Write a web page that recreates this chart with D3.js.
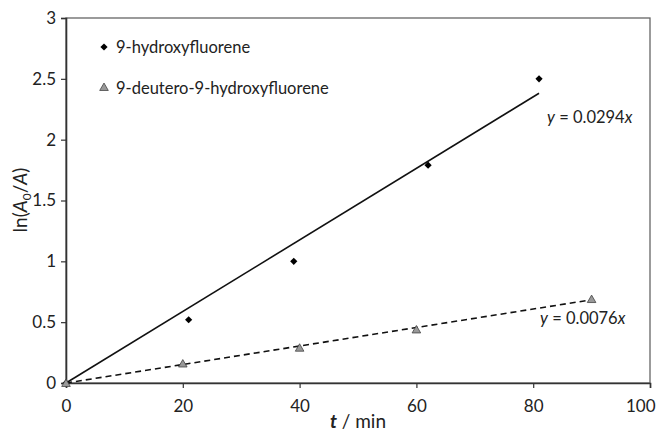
<!DOCTYPE html>
<html><head><meta charset="utf-8">
<script src="https://cdn.jsdelivr.net/npm/d3@7"></script>
<style>body{margin:0;background:#fff}svg{display:block}text{font-family:Lato,"Open Sans",sans-serif;fill:#222}</style>
</head><body><svg id="c" width="656" height="433"></svg>
<script>
const hTime = [0, 21, 39, 62, 81];
const hValue = [0, 0.52, 1.0, 1.79, 2.5];
const dTime = [0, 20, 40, 60, 90];
const dValue = [0, 0.16, 0.29, 0.44, 0.69];
const hSlope = 0.0294, dSlope = 0.0076;
const xTicks = [0, 20, 40, 60, 80, 100];
const yTicks = [0, 0.5, 1, 1.5, 2, 2.5, 3];
const seriesNames = ["9-hydroxyfluorene", "9-deutero-9-hydroxyfluorene"];

const svg = d3.select("#c");
const x = d3.scaleLinear().domain([0, 100]).range([66, 650]);
const y = d3.scaleLinear().domain([0, 3]).range([383, 18]);

// frame
svg.append("rect").attr("x", x(0)).attr("y", y(3)).attr("width", x(100)-x(0)).attr("height", y(0)-y(3))
  .attr("fill", "none").attr("stroke", "#666").attr("stroke-width", 1.3);

const xAxis = svg.append("g").attr("transform", `translate(0,${y(0)})`)
  .call(d3.axisBottom(x).tickValues(xTicks).tickSize(5).tickPadding(12).tickFormat(d3.format("d")));
const yAxis = svg.append("g").attr("transform", `translate(${x(0)},0)`)
  .call(d3.axisLeft(y).tickValues(yTicks).tickSize(5).tickPadding(5).tickFormat(d => String(d)));
[xAxis, yAxis].forEach(g => {
  g.select(".domain").attr("stroke", "#333").attr("stroke-width", 1.6);
  g.selectAll(".tick line").attr("stroke", "#333").attr("stroke-width", 1.2);
  g.selectAll(".tick text").style("font-size", "17px").style("font-family", "Lato,sans-serif").attr("fill", "#222");
});
xAxis.selectAll(".tick text").filter(d => d === 100).attr("text-anchor", "end").attr("dx", 5);

// fit lines
svg.append("line").attr("x1", x(0)).attr("y1", y(0)).attr("x2", x(d3.max(hTime))).attr("y2", y(hSlope*d3.max(hTime)))
  .attr("stroke", "#111").attr("stroke-width", 1.6);
svg.append("line").attr("x1", x(0)).attr("y1", y(0)).attr("x2", x(d3.max(dTime))).attr("y2", y(dSlope*d3.max(dTime)))
  .attr("stroke", "#111").attr("stroke-width", 1.6).attr("stroke-dasharray", "6,4");

// points
const dia = d3.symbol().type(d3.symbolSquare).size(26);
const tri = d3.symbol().type(d3.symbolTriangle).size(32);
svg.selectAll(".h").data(hTime.map((t,i)=>[t,hValue[i]])).join("path")
  .attr("transform", d => `translate(${x(d[0])},${y(d[1])}) rotate(45)`).attr("d", dia).attr("fill", "#000");
svg.selectAll(".d").data(dTime.map((t,i)=>[t,dValue[i]])).join("path")
  .attr("transform", d => `translate(${x(d[0])},${y(d[1])+1})`).attr("d", tri).attr("fill", "#999").attr("stroke", "#444").attr("stroke-width", 0.8);

// legend
svg.append("path").attr("transform", "translate(104,47) rotate(45)").attr("d", dia).attr("fill", "#000");
svg.append("path").attr("transform", "translate(104,88)").attr("d", tri).attr("fill", "#999").attr("stroke", "#444").attr("stroke-width", 0.8);
svg.append("text").attr("x", 116).attr("y", 53).style("font-size", "16.5px").text(seriesNames[0]);
svg.append("text").attr("x", 116).attr("y", 94).style("font-size", "16.5px").text(seriesNames[1]);

// equations
function eq(xp, yp, val) {
  const t = svg.append("text").attr("x", xp).attr("y", yp).style("font-size", "16.5px");
  t.append("tspan").style("font-style", "italic").text("y");
  t.append("tspan").text(" = " + val);
  t.append("tspan").style("font-style", "italic").text("x");
}
eq(547, 123, hSlope.toFixed(4));
eq(540, 324, dSlope.toFixed(4));

// axis titles
const xt = svg.append("text").attr("x", 358).attr("y", 428).attr("text-anchor", "middle").style("font-size", "19px");
xt.append("tspan").style("font-style", "italic").style("font-weight", "bold").text("t");
xt.append("tspan").text(" / min");
const yt = svg.append("text").attr("transform", "translate(27,200) rotate(-90)").attr("text-anchor", "middle").style("font-size", "19px");
yt.append("tspan").text("ln(");
yt.append("tspan").style("font-style", "italic").text("A");
yt.append("tspan").attr("dy", 4).style("font-size", "12px").text("0");
yt.append("tspan").attr("dy", -4).text("/");
yt.append("tspan").style("font-style", "italic").text("A");
yt.append("tspan").text(")");
</script></body></html>
